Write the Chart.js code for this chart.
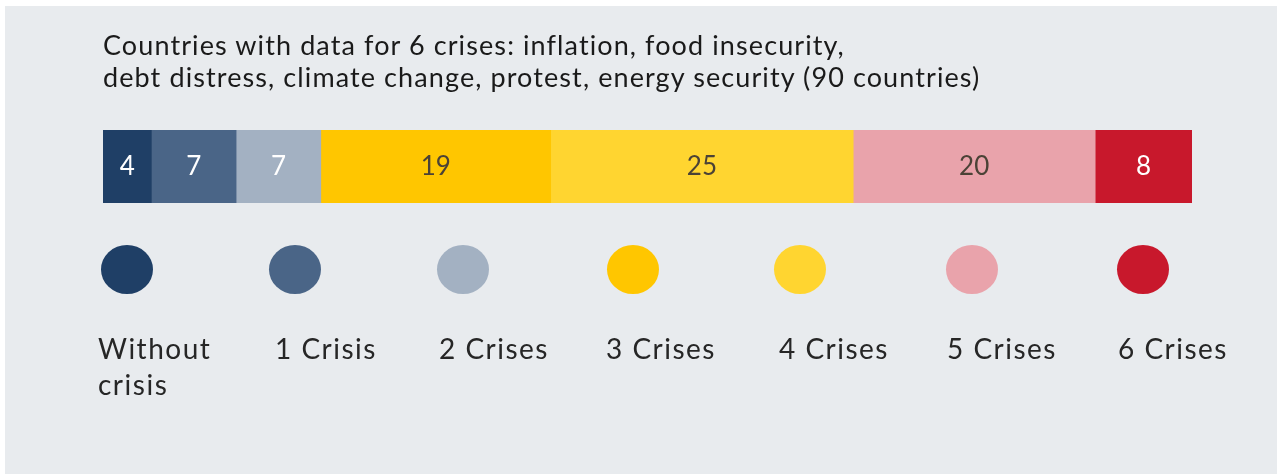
<!DOCTYPE html>
<html>
<head>
<meta charset="utf-8">
<script src="https://cdn.jsdelivr.net/npm/chart.js@4/dist/chart.umd.min.js"></script>
<style>
  html, body { margin: 0; padding: 0; background: #ffffff; }
  #frame {
    position: absolute; left: 5px; top: 6px; width: 1272px; height: 468px;
    background: #e8ebee;
  }
  #wrap { position: absolute; left: 0; top: 0; width: 1277px; height: 474px; }
  #title {
    position: absolute; left: 103px; top: 29px;
    font-family: Lato, "Noto Sans", sans-serif; font-size: 27px; line-height: 32px;
    letter-spacing: 1.1px; color: #1a1a1a; white-space: nowrap;
  }
  .leg { position: absolute; top: 245px; }
  .leg .dot { width: 52px; height: 49px; border-radius: 50%; }
  .leg .txt {
    position: absolute; top: 85px; left: -3px; width: 160px;
    font-family: Lato, "Noto Sans", sans-serif; font-size: 28px; line-height: 36px;
    letter-spacing: 1.5px; color: #262626;
  }
</style>
</head>
<body>
<div id="frame"></div>
<div id="wrap">
  <canvas id="crisisChart" width="1277" height="474"></canvas>
</div>
<div id="title">Countries with data for 6 crises: inflation, food insecurity,<br>debt distress, climate change, protest, energy security (90 countries)</div>
<div id="legend"></div>
<script>
const categories = ['Without crisis', '1 Crisis', '2 Crises', '3 Crises', '4 Crises', '5 Crises', '6 Crises'];
const counts = [4, 7, 7, 19, 25, 20, 8];
const colors = ['#1f3f66', '#4a6587', '#a3b1c2', '#ffc600', '#ffd530', '#e9a3ab', '#c8182c'];
const labelColors = ['#ffffff', '#ffffff', '#ffffff', '#4b4236', '#4b4236', '#4b4236', '#ffffff'];
const legendX = [101, 269, 437, 607, 774, 946, 1117];
const legendTextX = [98, 275, 439, 606, 779, 947, 1118];

// valeurs écrites au centre de chaque segment
const segmentLabels = {
  id: 'segmentLabels',
  afterDatasetsDraw(chart) {
    const ctx = chart.ctx;
    ctx.save();
    ctx.font = '26px Lato, "Noto Sans", sans-serif';
    ctx.textAlign = 'center';
    ctx.textBaseline = 'middle';
    chart.data.datasets.forEach((ds, i) => {
      const bar = chart.getDatasetMeta(i).data[0];
      const c = bar.getCenterPoint();
      ctx.fillStyle = labelColors[i];
      ctx.fillText(String(ds.data[0]), c.x, c.y);
    });
    ctx.restore();
  }
};

new Chart(document.getElementById('crisisChart').getContext('2d'), {
  type: 'bar',
  data: {
    labels: [''],
    datasets: categories.map((c, i) => ({
      label: c,
      data: [counts[i]],
      backgroundColor: colors[i],
      borderWidth: 0,
      barPercentage: 1,
      categoryPercentage: 1
    }))
  },
  options: {
    indexAxis: 'y',
    responsive: false,
    animation: false,
    layout: { padding: { left: 103, right: 85, top: 130, bottom: 271 } },
    plugins: { legend: { display: false }, tooltip: { enabled: false } },
    scales: {
      x: { stacked: true, min: 0, max: 90, display: false },
      y: { stacked: true, display: false }
    }
  },
  plugins: [segmentLabels]
});

// légende : pastille puis texte en dessous
const legend = document.getElementById('legend');
categories.forEach((c, i) => {
  const item = document.createElement('div');
  item.className = 'leg';
  item.style.left = legendX[i] + 'px';
  const dot = document.createElement('div');
  dot.className = 'dot';
  dot.style.background = colors[i];
  const txt = document.createElement('div');
  txt.className = 'txt';
  txt.style.left = (legendTextX[i] - legendX[i]) + 'px';
  txt.innerHTML = i === 0 ? 'Without<br>crisis' : c;
  item.appendChild(dot);
  item.appendChild(txt);
  legend.appendChild(item);
});
</script>
</body>
</html>
